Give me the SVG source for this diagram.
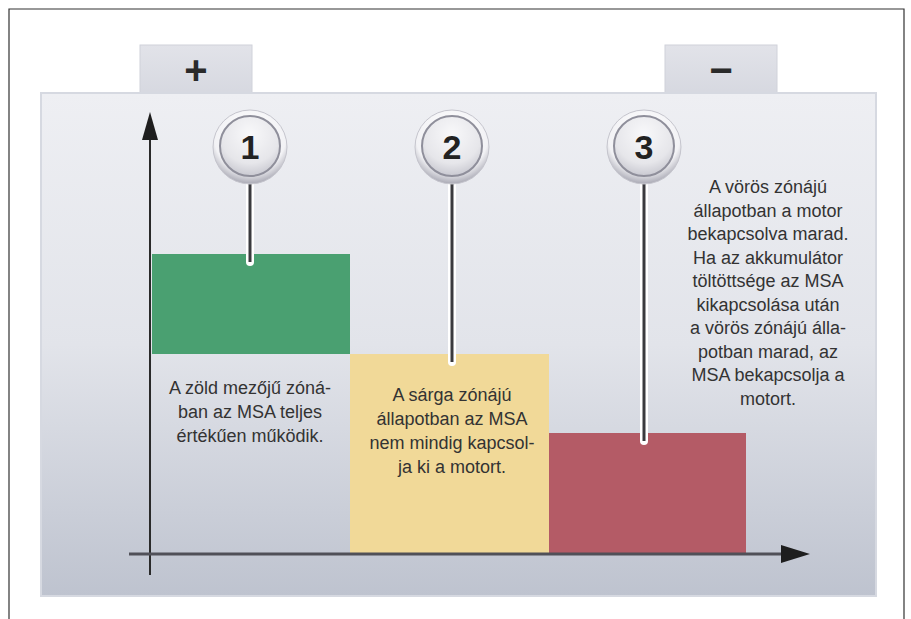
<svg xmlns="http://www.w3.org/2000/svg" width="911" height="619" viewBox="0 0 911 619">
<defs>
<linearGradient id="body" x1="0" y1="0" x2="0" y2="1">
<stop offset="0" stop-color="#eeeff3"/>
<stop offset="0.5" stop-color="#e2e4ea"/>
<stop offset="1" stop-color="#bec3cf"/>
</linearGradient>
<linearGradient id="term" x1="0" y1="0" x2="0" y2="1">
<stop offset="0" stop-color="#e2e3e9"/>
<stop offset="1" stop-color="#d6d8e0"/>
</linearGradient>
<radialGradient id="knobOuter" cx="0.5" cy="0.35" r="0.65">
<stop offset="0" stop-color="#ffffff"/>
<stop offset="0.75" stop-color="#f2f2f5"/>
<stop offset="1" stop-color="#a9a9b4"/>
</radialGradient>
<radialGradient id="knobInner" cx="0.5" cy="0.3" r="0.7">
<stop offset="0" stop-color="#f8f8fa"/>
<stop offset="0.7" stop-color="#e6e6ea"/>
<stop offset="1" stop-color="#c9c9d1"/>
</radialGradient>
<style>
.txt{font-family:"Liberation Sans",Arial,sans-serif;font-size:18px;fill:#333;text-anchor:middle;font-weight:normal}
.num{font-family:"Liberation Sans",Arial,sans-serif;font-size:34px;font-weight:bold;fill:#222;text-anchor:middle}
.sign{font-family:"Liberation Sans",Arial,sans-serif;font-size:40px;font-weight:bold;fill:#2a2a2a;text-anchor:middle}
.pinW{stroke:#ffffff;stroke-width:8;stroke-linecap:round;fill:none}
.pinD{stroke:#3a3a3e;stroke-width:3;fill:none}
.head{fill:#1e1e1e}
</style>
</defs>
<rect x="0" y="0" width="911" height="619" fill="#ffffff"/>
<path d="M9,619 L9,9 L904,9 L904,619" fill="none" stroke="#333" stroke-width="1.2"/>

<g id="battery">
<rect x="140" y="45" width="112" height="50" fill="url(#term)" stroke="#d0d2da" stroke-width="1"/>
<rect x="665" y="45" width="112" height="50" fill="url(#term)" stroke="#d0d2da" stroke-width="1"/>
<rect x="41" y="93" width="835" height="503" fill="url(#body)" stroke="#d6d9e1" stroke-width="2"/>
<text class="sign" x="196" y="84">+</text>
<text class="sign" x="721" y="84">−</text>
</g>

<g id="zone-green"><rect x="152" y="254" width="198" height="100" fill="#4aa071"/></g>
<g id="zone-yellow"><rect x="350" y="354" width="199" height="199" fill="#f1d998"/></g>
<g id="zone-red"><rect x="549" y="433" width="197" height="120" fill="#b45b66"/></g>

<g id="axes">
<line x1="150" y1="575" x2="150" y2="135" stroke="#2a2a2a" stroke-width="2"/>
<path class="head" d="M150,112 L158,140 L142,140 z"/>
<line x1="129" y1="554" x2="784" y2="554" stroke="#505058" stroke-width="3"/>
<path class="head" d="M810,554 L781,545 L781,563 z"/>
</g>

<g id="connectors">
<line class="pinW" x1="250" y1="184" x2="250" y2="262"/>
<line class="pinD" x1="250" y1="184" x2="250" y2="262"/>
<line class="pinW" x1="452" y1="184" x2="452" y2="362"/>
<line class="pinD" x1="452" y1="184" x2="452" y2="362"/>
<line class="pinW" x1="644" y1="184" x2="644" y2="441"/>
<line class="pinD" x1="644" y1="184" x2="644" y2="441"/>
</g>

<g id="node1">
<circle cx="250" cy="147" r="37" fill="url(#knobOuter)" stroke="#c5c5cd" stroke-width="1"/>
<circle cx="250" cy="146" r="30" fill="url(#knobInner)" stroke="#8f8f9b" stroke-width="2"/>
<text class="num" x="250" y="159">1</text>
</g>
<g id="node2">
<circle cx="452" cy="147" r="37" fill="url(#knobOuter)" stroke="#c5c5cd" stroke-width="1"/>
<circle cx="452" cy="146" r="30" fill="url(#knobInner)" stroke="#8f8f9b" stroke-width="2"/>
<text class="num" x="452" y="159">2</text>
</g>
<g id="node3">
<circle cx="644" cy="147" r="37" fill="url(#knobOuter)" stroke="#c5c5cd" stroke-width="1"/>
<circle cx="644" cy="146" r="30" fill="url(#knobInner)" stroke="#8f8f9b" stroke-width="2"/>
<text class="num" x="644" y="159">3</text>
</g>

<g id="text1">
<text class="txt" x="250" y="394">A zöld mezőjű zóná-</text>
<text class="txt" x="250" y="418">ban az MSA teljes</text>
<text class="txt" x="250" y="442">értékűen működik.</text>
</g>
<g id="text2">
<text class="txt" x="452" y="401">A sárga zónájú</text>
<text class="txt" x="452" y="425">állapotban az MSA</text>
<text class="txt" x="452" y="449">nem mindig kapcsol-</text>
<text class="txt" x="452" y="473">ja ki a motort.</text>
</g>
<g id="text3">
<text class="txt" x="768" y="193">A vörös zónájú</text>
<text class="txt" x="768" y="216.5">állapotban a motor</text>
<text class="txt" x="768" y="240">bekapcsolva marad.</text>
<text class="txt" x="768" y="263.5">Ha az akkumulátor</text>
<text class="txt" x="768" y="287">töltöttsége az MSA</text>
<text class="txt" x="768" y="310.5">kikapcsolása után</text>
<text class="txt" x="768" y="334">a vörös zónájú álla-</text>
<text class="txt" x="768" y="357.5">potban marad, az</text>
<text class="txt" x="768" y="381">MSA bekapcsolja a</text>
<text class="txt" x="768" y="404.5">motort.</text>
</g>
</svg>
